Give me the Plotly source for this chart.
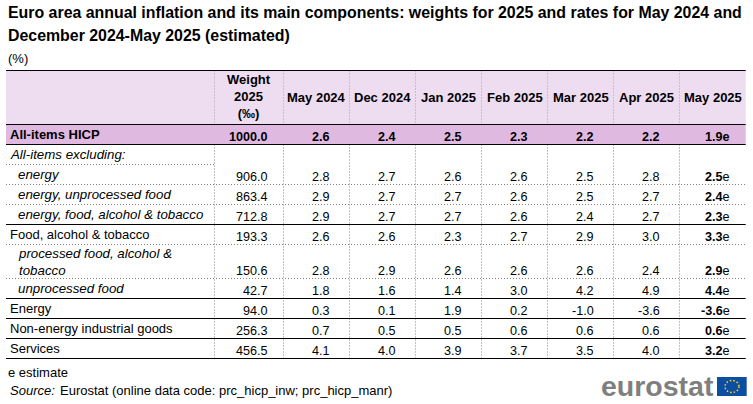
import plotly.graph_objects as go

TITLE = ["Euro area annual inflation and its main components: weights for 2025 and rates for May 2024 and",
         "December 2024-May 2025 (estimated)"]
UNIT = "(%)"
HEADERS = ["Weight<br>2025<br>(‰)", "May 2024", "Dec 2024", "Jan 2025", "Feb 2025", "Mar 2025", "Apr 2025", "May 2025"]
LABELS = ["All-items HICP", "All-items excluding:", "energy", "energy, unprocessed food",
          "energy, food, alcohol &amp; tobacco", "Food, alcohol &amp; tobacco",
          "processed food, alcohol &amp;<br>tobacco", "unprocessed food", "Energy",
          "Non-energy industrial goods", "Services"]
WEIGHT = ["1000.0", "", "906.0", "863.4", "712.8", "193.3", "150.6", "42.7", "94.0", "256.3", "456.5"]
MAY_2024 = ["2.6", "", "2.8", "2.9", "2.9", "2.6", "2.8", "1.8", "0.3", "0.7", "4.1"]
DEC_2024 = ["2.4", "", "2.7", "2.7", "2.7", "2.6", "2.9", "1.6", "0.1", "0.5", "4.0"]
JAN_2025 = ["2.5", "", "2.6", "2.7", "2.7", "2.3", "2.6", "1.4", "1.9", "0.5", "3.9"]
FEB_2025 = ["2.3", "", "2.6", "2.6", "2.6", "2.7", "2.6", "3.0", "0.2", "0.6", "3.7"]
MAR_2025 = ["2.2", "", "2.5", "2.5", "2.4", "2.9", "2.6", "4.2", "-1.0", "0.6", "3.5"]
APR_2025 = ["2.2", "", "2.8", "2.7", "2.7", "3.0", "2.4", "4.9", "-3.6", "0.6", "4.0"]
MAY_2025 = ["1.9", "", "2.5", "2.4", "2.3", "3.3", "2.9", "4.4", "-3.6", "0.6", "3.2"]
NOTE = "e estimate"
SOURCE = "Eurostat (online data code: prc_hicp_inw; prc_hicp_manr)"

COLUMNS = [WEIGHT, MAY_2024, DEC_2024, JAN_2025, FEB_2025, MAR_2025, APR_2025, MAY_2025]

# table geometry, in page pixels
LEFT, RIGHT = 6, 745.7
COL_X = [214.5, 283.5, 349.5, 415.5, 481.5, 547.5, 613.5, 679.5, RIGHT]
ROW_Y = [124.5, 144.5, 164.5, 184.5, 204.5, 224.5, 244.5, 278.5, 298.5, 318.5, 338.5, 358.5]
TOP = 70.5
SOLID_BELOW = {0, 4, 7, 8, 9, 10}
LABEL_COL_DOTTED = {1, 2, 3}
FULL_DOTTED = {5, 6}
ITALIC = {1, 2, 3, 4, 6, 7}
INDENT = {2, 3, 4, 6, 7}
FONT = "Liberation Sans"
FS = 13
FS_VALUE = 12.6
DOT = "1px,2px"

fig = go.Figure()
shapes, ann = [], []

def text(x, y, s, size=FS, anchor="left", yanchor="bottom", bold=False, italic=False, color="#000000", align=None):
    if bold:
        s = f"<b>{s}</b>"
    if italic:
        s = f"<i>{s}</i>"
    ann.append(dict(x=x, y=y, xref="x", yref="y", text=s, showarrow=False, xanchor=anchor, yanchor=yanchor,
                    align=align or anchor, borderpad=0, borderwidth=0,
                    font=dict(family=FONT, size=size, color=color)))

def line(x0, y0, x1, y1, color="#000000", width=1, dash="solid"):
    shapes.append(dict(type="line", x0=x0, y0=y0, x1=x1, y1=y1, xref="x", yref="y",
                       line=dict(color=color, width=width, dash=dash), layer="above"))

def rect(x0, y0, x1, y1, color):
    shapes.append(dict(type="rect", x0=x0, y0=y0, x1=x1, y1=y1, xref="x", yref="y",
                       fillcolor=color, line=dict(width=0), layer="below"))

rect(LEFT, TOP, RIGHT, ROW_Y[0], "#eedcf0")
rect(LEFT, ROW_Y[0], RIGHT, ROW_Y[1], "#e0b9e0")

# vertical separators
for x in COL_X[:-1]:
    line(x, TOP, x, ROW_Y[0], "#a8a0a8", 1, DOT)
    line(x, ROW_Y[1], x, ROW_Y[-1], "#808080", 1, DOT)

# horizontal rules
line(LEFT, TOP, RIGHT, TOP, width=1.2)
line(LEFT, ROW_Y[0], RIGHT, ROW_Y[0], width=1.2)
for i in range(len(LABELS)):
    y = ROW_Y[i + 1]
    if i in SOLID_BELOW:
        line(LEFT, y, RIGHT, y, width=1.2)
    elif i in LABEL_COL_DOTTED:
        line(LEFT, y, COL_X[0] if i == 1 else RIGHT, y, "#808080", 1, DOT)
    elif i in FULL_DOTTED:
        line(LEFT, y, RIGHT, y, "#808080", 1, DOT)

# title and unit
text(8, 21, TITLE[0], size=15.9, bold=True)
text(8, 44, TITLE[1], size=15.9, bold=True)
text(8, 66, UNIT)

# header cells
for j, h in enumerate(HEADERS):
    cx = (COL_X[j] + COL_X[j + 1]) / 2
    text(cx, 97.5 if j else 96.5, h, anchor="center", yanchor="middle", bold=True)

# rows
for i, lab in enumerate(LABELS):
    top, bot = ROW_Y[i], ROW_Y[i + 1]
    text(LEFT + (12 if i in INDENT else 3.5), bot - 2.5 if i != 6 else bot - 1, lab, bold=i == 0, italic=i in ITALIC,
         yanchor="bottom", align="left", size=13.3 if i in ITALIC else FS)
    for j, col in enumerate(COLUMNS):
        v = col[i]
        if not v:
            continue
        pad = 16 if j in (0, 7) else 20
        s = v
        if j == 7:
            s = f"<b>{v}</b>e" if i else f"{v}e"
        text(COL_X[j + 1] - pad, bot - 0.5, s, size=FS_VALUE, anchor="right", yanchor="bottom", bold=(i == 0))

# footer
text(8, 380, NOTE)
text(10, 398, "Source:", italic=True)
text(60, 398, SOURCE)

# logo
text(714, 402, "eurostat", size=28.5, anchor="right", bold=True, color="#7f7f7f")
rect(717, 377, 746.7, 396, "#0b4ea2")
shapes.append(dict(type="circle", x0=725, y0=380.5, x1=739, y1=392.5, xref="x", yref="y",
                   line=dict(color="#ffd617", width=1.5, dash="1.5px,2px"), layer="above"))

# invisible trace to establish the axes
fig.add_trace(go.Scatter(x=[0, 753], y=[0, 404], mode="markers", marker=dict(opacity=0), hoverinfo="skip", showlegend=False))

fig.update_layout(width=753, height=404, margin=dict(l=0, r=0, t=0, b=0), paper_bgcolor="white", plot_bgcolor="white",
                  shapes=shapes, annotations=ann, showlegend=False,
                  xaxis=dict(range=[0, 753], visible=False, fixedrange=True),
                  yaxis=dict(range=[404, 0], visible=False, fixedrange=True))
fig.write_html("out.html", config={"displayModeBar": False},
               post_script="document.body.style.margin='0';document.body.style.overflow='hidden';")
